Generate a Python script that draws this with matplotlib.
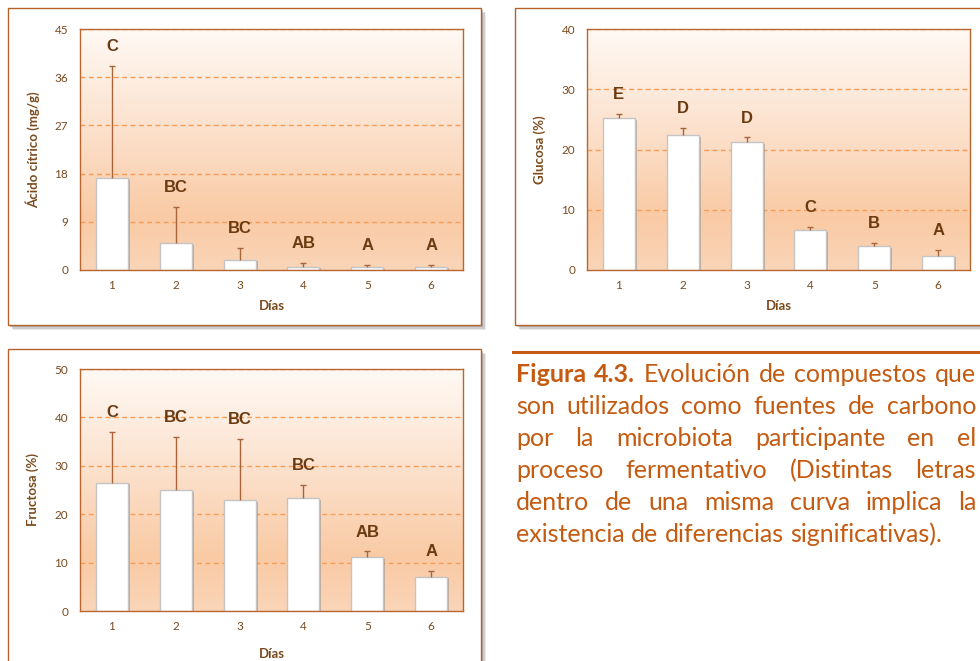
import numpy as np
import matplotlib
matplotlib.use("Agg")
import matplotlib.pyplot as plt
from matplotlib.patches import Rectangle
from matplotlib.lines import Line2D
from matplotlib.colors import LinearSegmentedColormap
import matplotlib.patheffects as pe

plt.rcParams["font.family"] = ["Lato", "DejaVu Sans"]

# ---- data ----
dias = [1, 2, 3, 4, 5, 6]

citrico_media = [17.2, 5.0, 1.9, 0.6, 0.5, 0.6]
citrico_de = [20.9, 6.8, 2.3, 0.65, 0.4, 0.3]
citrico_letras = ["C", "BC", "BC", "AB", "A", "A"]
citrico_ticks = [0, 9, 18, 27, 36, 45]

glucosa_media = [25.2, 22.4, 21.2, 6.6, 4.0, 2.4]
glucosa_de = [0.7, 1.1, 0.8, 0.6, 0.5, 1.0]
glucosa_letras = ["E", "D", "D", "C", "B", "A"]
glucosa_ticks = [0, 10, 20, 30, 40]

fructosa_media = [26.5, 24.9, 22.9, 23.3, 11.1, 7.1]
fructosa_de = [10.5, 11.1, 12.7, 2.7, 1.2, 1.1]
fructosa_letras = ["C", "BC", "BC", "BC", "AB", "A"]
fructosa_ticks = [0, 10, 20, 30, 40, 50]

caption_lines = [
    [("Figura", True), ("4.3.", True), ("Evolución", False), ("de", False),
     ("compuestos", False), ("que", False)],
    "son utilizados como fuentes de carbono",
    "por la microbiota participante en el",
    "proceso fermentativo (Distintas letras",
    "dentro de una misma curva implica la",
    "existencia de diferencias significativas).",
]

# ---- style ----
W, H = 980, 661
BOX_EDGE = "#B5622A"
SPINE = "#B8662E"
GRID = "#F59D56"
TICK_C = "#7A4A20"
LABEL_C = "#7B4A1C"
LETTER_C = "#6B3A10"
ERR_C = "#A9653A"
CAPTION_C = "#C55A11"

bg_cmap = LinearSegmentedColormap.from_list(
    "bg", [(0.0, "#FAD5B8"), (0.22, "#F9CAA4"), (0.6, "#FCE2CE"), (1.0, "#FFF9F4")])

fig = plt.figure(figsize=(W / 100, H / 100), dpi=100)
fig.patch.set_facecolor("white")


def fig_rect(x0, y0, x1, y1):
    """Pixel box (top-left origin) -> figure fraction [left, bottom, width, height]."""
    return [x0 / W, (H - y1) / H, (x1 - x0) / W, (y1 - y0) / H]


def panel_box(x0, y0, x1, y1):
    for off, a in [(5, 0.18), (3.5, 0.3), (2, 0.45)]:
        l, b, w, h = fig_rect(x0 + off, y0 + off, x1 + off, y1 + off)
        fig.add_artist(Rectangle((l, b), w, h, transform=fig.transFigure,
                                 facecolor="#8c8c8c", edgecolor="none",
                                 alpha=a, zorder=-3))
    l, b, w, h = fig_rect(x0, y0, x1, y1)
    fig.add_artist(Rectangle((l, b), w, h, transform=fig.transFigure,
                             facecolor="white", edgecolor=BOX_EDGE,
                             linewidth=1.0, zorder=-2))


def bar_panel(rect, media, de, letras, ticks, ylabel, xlabel_y):
    ax = fig.add_axes(fig_rect(*rect))
    ax.set_facecolor("none")
    grad = np.linspace(0, 1, 256).reshape(-1, 1)
    ax.imshow(grad, extent=[0, 1, 0, 1], transform=ax.transAxes, origin="lower",
              aspect="auto", cmap=bg_cmap, zorder=0)
    for t in ticks[1:]:
        ax.axhline(t, color=GRID, lw=1.0, ls=(0, (3.5, 2.5)), zorder=0.5)
    bars = ax.bar(dias, media, width=0.5, color="white", edgecolor="#C4C4C4",
                  linewidth=1.0, zorder=2)
    for b in bars:
        b.set_path_effects([pe.SimplePatchShadow(offset=(1.5, -1.2),
                                                 shadow_rgbFace="#7a7a7a", alpha=0.45),
                            pe.Normal()])
    # upper error bars only
    tops = np.asarray(media) + np.asarray(de)
    ax.vlines(dias, media, tops, color=ERR_C, lw=1.0, zorder=3)
    ax.plot(dias, tops, ls="none", marker="_", ms=5, mew=1.0, color=ERR_C, zorder=3)
    for x, top, l in zip(dias, tops, letras):
        ax.annotate(l, (x, top), xytext=(0, 14), textcoords="offset points",
                    ha="center", va="center", fontsize=12, fontweight="bold",
                    family=["Liberation Sans", "DejaVu Sans"],
                    color=LETTER_C, zorder=4)
    ax.set_xlim(0.5, 6.5)
    ax.set_ylim(ticks[0], ticks[-1])
    ax.set_xticks(dias)
    ax.set_xticklabels([str(d) for d in dias])
    ax.set_yticks(ticks)
    ax.set_yticklabels([str(t) for t in ticks])
    ax.tick_params(length=0, labelsize=8.5, labelcolor=TICK_C)
    ax.tick_params(axis="y", pad=8.5)
    ax.tick_params(axis="x", pad=7.5)
    for s in ax.spines.values():
        s.set_color(SPINE)
        s.set_linewidth(1.0)
        s.set_zorder(5)
    ax.set_ylabel(ylabel, fontsize=9.5, fontweight="bold", color=LABEL_C)
    ax.yaxis.set_label_coords(-0.1227, 0.5)
    ax.yaxis.label.set_verticalalignment("center")
    ax.set_xlabel("Días", fontsize=9.5, fontweight="bold", color=LABEL_C)
    ax.xaxis.set_label_coords(0.5, xlabel_y)
    ax.xaxis.label.set_verticalalignment("center")
    return ax


panel_box(8, 8, 481, 325)
panel_box(515, 8, 995, 325)
panel_box(8, 349, 481, 675)

bar_panel((80, 29, 463, 270), citrico_media, citrico_de, citrico_letras,
          citrico_ticks, "Ácido cítrico (mg/g)", -0.149)
bar_panel((587, 29, 970, 270), glucosa_media, glucosa_de, glucosa_letras,
          glucosa_ticks, "Glucosa (%)", -0.148)
bar_panel((80, 369, 463, 611), fructosa_media, fructosa_de, fructosa_letras,
          fructosa_ticks, "Fructosa (%)", -0.178)

# ---- caption ----
fig.add_artist(Line2D([513 / W, 1.0], [(H - 352) / H] * 2, transform=fig.transFigure,
                      color=CAPTION_C, lw=2.2))

renderer = fig.canvas.get_renderer()
x_left, x_right = 516, 976
base0, step = 382.5, 32.0
cap_size = 18.0
for i, line in enumerate(caption_lines):
    words = line if isinstance(line, list) else [(w, False) for w in line.split()]
    y = (H - (base0 + i * step)) / H
    texts = []
    for w, bold in words:
        t = fig.text(0, y, w, fontsize=cap_size, color=CAPTION_C,
                     fontweight="bold" if bold else "normal", ha="left", va="baseline")
        texts.append(t)
    widths = [t.get_window_extent(renderer).width for t in texts]
    if i < len(caption_lines) - 1:
        gap = (x_right - x_left - sum(widths)) / (len(texts) - 1)
    else:
        gap = fig.text(0, 0, " ", fontsize=cap_size).get_window_extent(renderer).width
    x = x_left
    for t, w in zip(texts, widths):
        t.set_x(x / W)
        x += w + gap

fig.savefig("out.png", dpi=100)
